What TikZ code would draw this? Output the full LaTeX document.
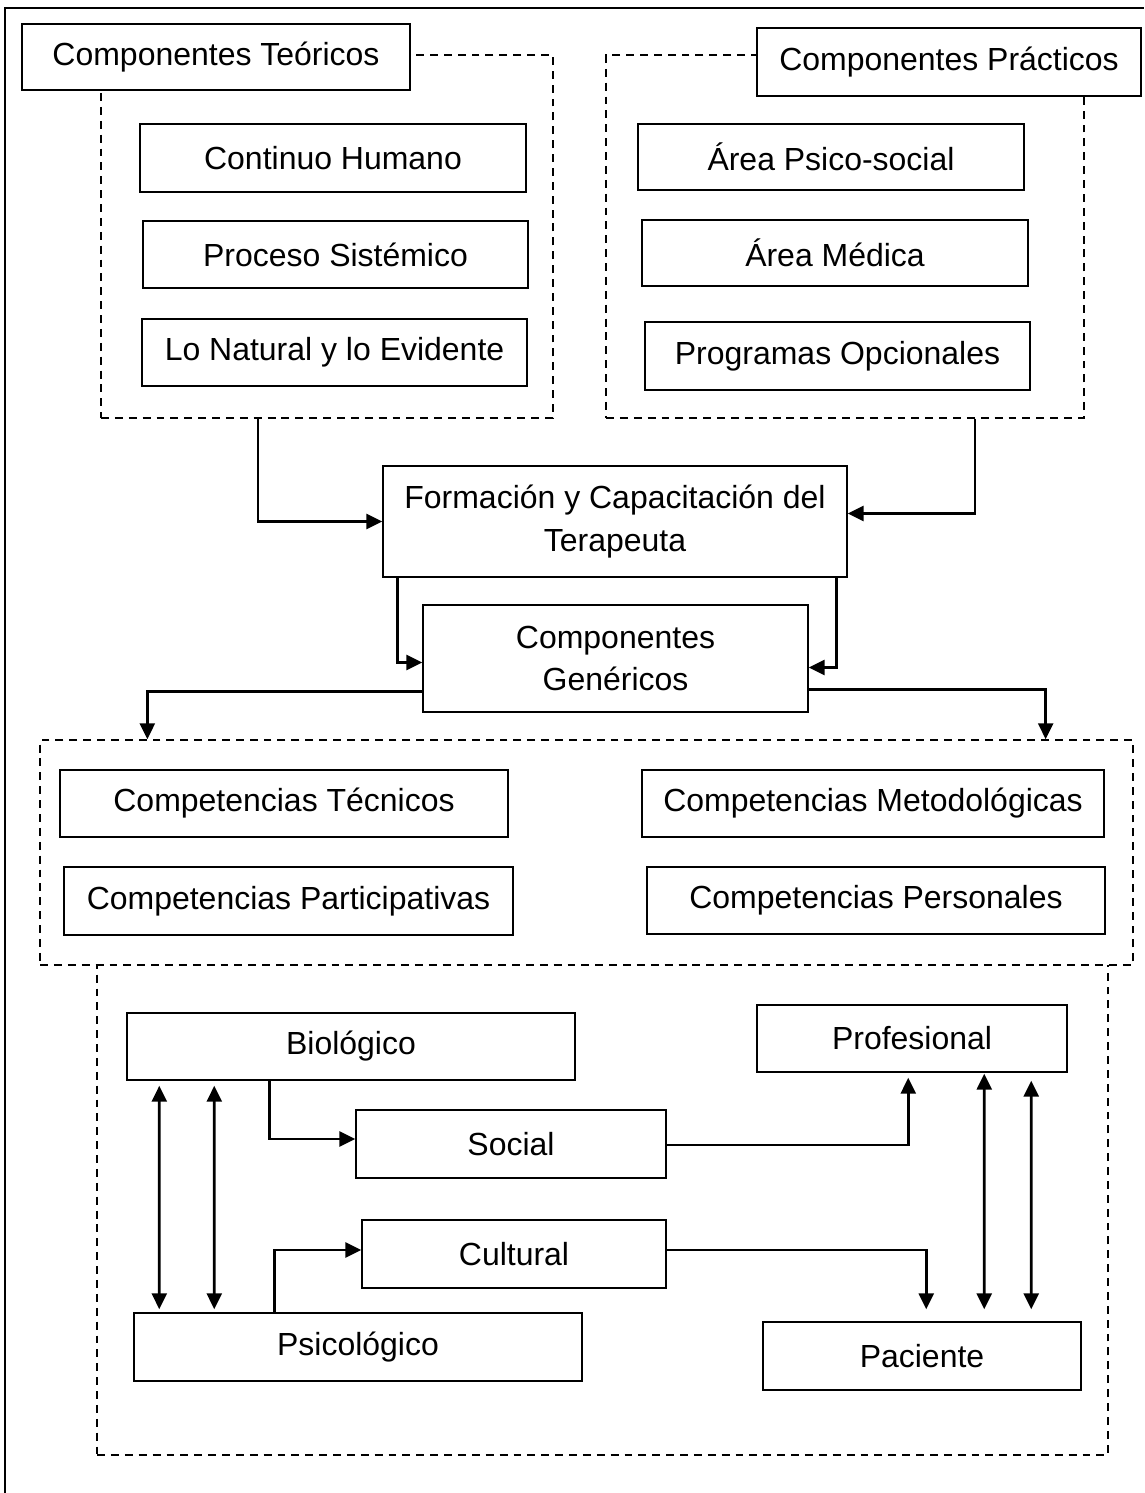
\documentclass[tikz,border=0pt]{standalone}
\usepackage{fontspec}
\setmainfont{Liberation Sans}
\usetikzlibrary{arrows.meta}
\tikzset{
  caja/.style={draw, line width=0.85pt, fill=white, align=center, inner sep=2pt, font=\fontsize{18.2}{24.4}\selectfont},
  grupo/.style={draw, dash pattern=on 4.5pt off 3.4pt, line width=0.85pt, inner sep=0pt},
  flecha/.style={line width=1.5pt, -{Triangle[length=0.32cm,width=0.3cm]}},
  dflecha/.style={line width=1.5pt, {Triangle[length=0.32cm,width=0.3cm]}-{Triangle[length=0.32cm,width=0.3cm]}}
}

\begin{document}
\begin{tikzpicture}[x=0.02cm,y=-0.02cm]
\useasboundingbox (0,0) rectangle (1144,1493);
\draw [line width=0.85pt] (5,1493) -- (5,8) -- (1144,8);
% zonas punteadas
\node [grupo, minimum width=9.04cm, minimum height=7.26cm] (teogrp) at (327,236.5) {};
\node [grupo, minimum width=9.56cm, minimum height=7.26cm] (pracgrp) at (845,236.5) {};
\node [grupo, minimum width=20.22cm, minimum height=11.1cm] (abajo) at (602.5,1177.5) {};
\node [grupo, fill=white, minimum width=21.86cm, minimum height=4.5cm] (compgrp) at (586.5,852.5) {};
% componentes
\node [caja, minimum width=7.76cm, minimum height=1.32cm] (teo) at (216,57) {Componentes Teóricos};
\node [caja, minimum width=7.72cm, minimum height=1.36cm] (humano) at (333,158) {Continuo Humano};
\node [caja, minimum width=7.70cm, minimum height=1.34cm] (sistemico) at (335.5,254.5) {Proceso Sistémico};
\node [caja, minimum width=7.70cm, minimum height=1.34cm] (natural) at (334.5,352.5) {Lo Natural y lo Evidente};
\node [caja, minimum width=7.68cm, minimum height=1.36cm] (prac) at (949,62) {Componentes Prácticos};
\node [caja, minimum width=7.72cm, minimum height=1.32cm] (psicosoc) at (831,157) {Área Psico-social};
\node [caja, minimum width=7.72cm, minimum height=1.32cm] (medica) at (835,253) {Área Médica};
\node [caja, minimum width=7.70cm, minimum height=1.36cm] (opcional) at (837.5,356) {Programas Opcionales};
\node [caja, minimum width=9.28cm, minimum height=2.22cm] (formacion) at (615,521.5) {Formación y Capacitación del\\Terapeuta};
\node [caja, minimum width=7.70cm, minimum height=2.14cm] (genericos) at (615.5,658.5) {Componentes\\Genéricos};
% competencias
\node [caja, minimum width=8.96cm, minimum height=1.34cm] (tecnicos) at (284,803.5) {Competencias Técnicos};
\node [caja, minimum width=8.98cm, minimum height=1.36cm] (particip) at (288.5,901) {Competencias Participativas};
\node [caja, minimum width=9.24cm, minimum height=1.34cm] (metodo) at (873,803.5) {Competencias Metodológicas};
\node [caja, minimum width=9.16cm, minimum height=1.34cm] (personal) at (876,900.5) {Competencias Personales};
% dimensiones
\node [caja, minimum width=8.96cm, minimum height=1.34cm] (bio) at (351,1046.5) {Biológico};
\node [caja, minimum width=6.20cm, minimum height=1.36cm] (social) at (511,1144) {Social};
\node [caja, minimum width=6.08cm, minimum height=1.36cm] (cultural) at (514,1254) {Cultural};
\node [caja, minimum width=8.96cm, minimum height=1.36cm] (psico) at (358,1347) {Psicológico};
\node [caja, minimum width=6.20cm, minimum height=1.34cm] (profesional) at (912,1038.5) {Profesional};
\node [caja, minimum width=6.36cm, minimum height=1.36cm] (paciente) at (922,1356) {Paciente};
% conexiones
\draw [flecha] ([xshift=-1.38cm]teogrp.south) |- (formacion.west);
\draw [flecha] ([xshift=2.6cm]pracgrp.south) |- ([yshift=0.16cm]formacion.east);
\draw [flecha] ([xshift=0.3cm]formacion.south west) |- ([yshift=-0.08cm]genericos.west);
\draw [flecha] ([xshift=-0.22cm]formacion.south east) |- ([yshift=-0.18cm]genericos.east);
\draw [flecha] ([yshift=0.42cm]genericos.south west) -| ([xshift=2.16cm]compgrp.north west);
\draw [flecha] ([yshift=0.46cm]genericos.south east) -| ([xshift=-1.76cm]compgrp.north east);
\draw [flecha] ([xshift=2.86cm]bio.south west) |- ([yshift=0.1cm]social.west);
\draw [flecha] ([xshift=2.82cm]psico.north west) |- ([yshift=0.08cm]cultural.west);
\draw [dflecha, shorten <=0.1cm, shorten >=0.06cm] ([xshift=0.66cm]bio.south west) -- ([xshift=0.52cm]psico.north west);
\draw [dflecha, shorten <=0.1cm, shorten >=0.06cm] ([xshift=1.76cm]bio.south west) -- ([xshift=1.62cm]psico.north west);
\draw [flecha, shorten >=0.1cm] ([yshift=-0.02cm]social.east) -| ([xshift=3.04cm]profesional.south west);
\draw [flecha, shorten >=0.24cm] ([yshift=0.08cm]cultural.east) -| ([xshift=3.28cm]paciente.north west);
\draw [dflecha, shorten <=0.02cm, shorten >=0.24cm] ([xshift=4.56cm]profesional.south west) -- ([xshift=4.44cm]paciente.north west);
\draw [dflecha, shorten <=0.16cm, shorten >=0.24cm] ([xshift=5.5cm]profesional.south west) -- ([xshift=5.38cm]paciente.north west);
\end{tikzpicture}
\end{document}
